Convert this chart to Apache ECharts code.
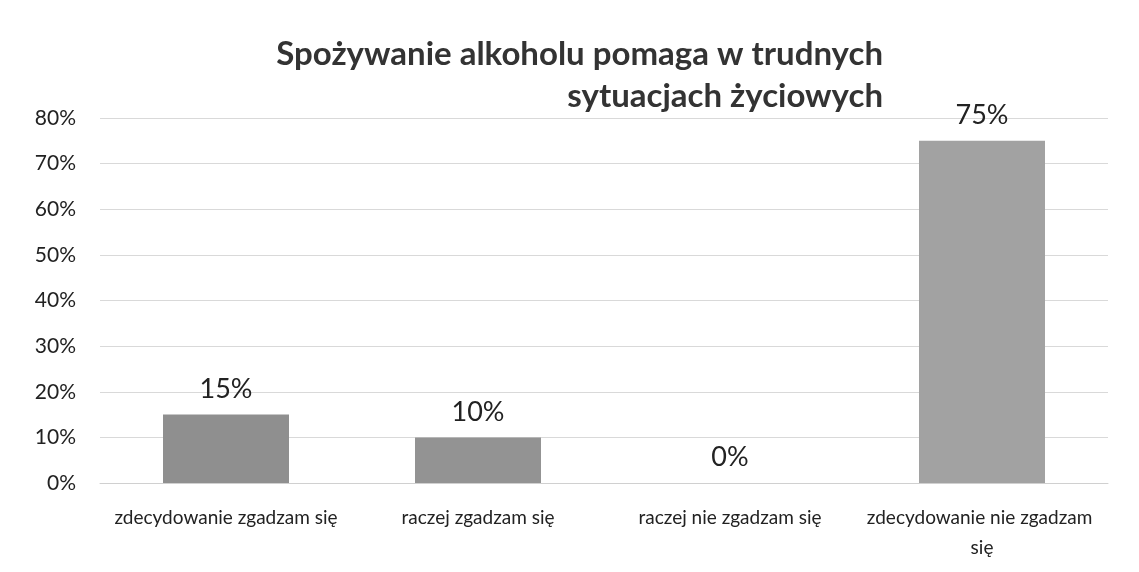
<!DOCTYPE html>
<html>
<head>
<meta charset="utf-8">
<script src="https://cdn.jsdelivr.net/npm/echarts@6/dist/echarts.min.js"></script>
<style>
  html, body { margin: 0; padding: 0; background: #fff; }
  #chart { width: 1139px; height: 572px; }
</style>
</head>
<body>
<div id="chart"></div>
<script>
// dane z wykresu
const titleText = 'Spożywanie alkoholu pomaga w trudnych\nsytuacjach życiowych';
const categories = ['zdecydowanie zgadzam się', 'raczej zgadzam się', 'raczej nie zgadzam się', 'zdecydowanie nie zgadzam się'];
const values = [15, 10, 0, 75];
const yTicks = [0, 10, 20, 30, 40, 50, 60, 70, 80];

const font = 'Lato, "Open Sans", sans-serif';
// skan - slupki lekko roznia sie odcieniem
const barColors = ['#8f8f8f', '#939393', '#999999', '#a2a2a2'];

const chart = echarts.init(document.getElementById('chart'));

chart.setOption({
    backgroundColor: '#fff',
    animation: false,
    title: {
        text: titleText,
        left: 878,
        top: 28,
        textAlign: 'right',
        textStyle: {
            fontFamily: font,
            fontWeight: 'bold',
            fontSize: 33,
            lineHeight: 42,
            color: '#333',
            align: 'right'
        }
    },
    grid: { left: 100, right: 31, top: 118, bottom: 89 },
    xAxis: {
        type: 'category',
        data: categories,
        axisLine: { show: true, lineStyle: { color: '#d0d0d0' } },
        axisTick: { show: false },
        axisLabel: {
            fontFamily: font,
            fontSize: 19,
            color: '#222',
            margin: 20,
            width: 252,
            overflow: 'break',
            lineHeight: 30,
            interval: 0
        }
    },
    yAxis: {
        type: 'value',
        min: yTicks[0],
        max: yTicks[yTicks.length - 1],
        interval: 10,
        axisLine: { show: false },
        axisTick: { show: false },
        splitLine: { lineStyle: { color: '#d9d9d9' } },
        axisLabel: {
            fontFamily: font,
            fontSize: 21,
            color: '#222',
            margin: 24,
            formatter: v => v + '%'
        }
    },
    series: [{
        type: 'bar',
        data: values,
        barWidth: '50%',
        itemStyle: { color: p => barColors[p.dataIndex] },
        label: {
            show: true,
            position: 'top',
            distance: 12,
            fontFamily: font,
            fontSize: 27,
            color: '#222',
            formatter: p => p.value + '%'
        }
    }]
});
</script>
</body>
</html>
